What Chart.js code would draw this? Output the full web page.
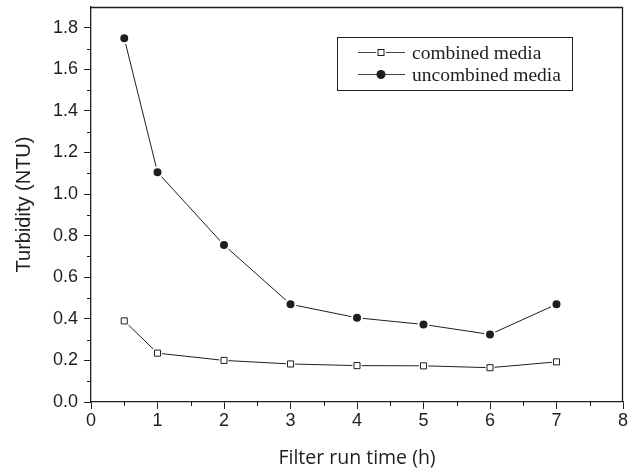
<!DOCTYPE html>
<html>
<head>
<meta charset="utf-8">
<script src="https://cdn.jsdelivr.net/npm/chart.js@4.4.1/dist/chart.umd.min.js"></script>
<style>
  html, body { margin: 0; padding: 0; background: #fff; }
  #wrap { width: 633px; height: 473px; position: relative; }
</style>
</head>
<body>
<div id="wrap"><canvas id="c" width="633" height="473"></canvas></div>
<script>
// ---- data ----
const filterRunTime = [0.5, 1, 2, 3, 4, 5, 6, 7];
const combinedMedia = [0.39, 0.235, 0.20, 0.183, 0.175, 0.174, 0.165, 0.193];
const uncombinedMedia = [1.75, 1.105, 0.755, 0.47, 0.405, 0.373, 0.325, 0.47];
const xTickValues = [0, 1, 2, 3, 4, 5, 6, 7, 8];
const yTickValues = [0, 0.2, 0.4, 0.6, 0.8, 1.0, 1.2, 1.4, 1.6, 1.8];
const xMinorTicks = [0.5, 1.5, 2.5, 3.5, 4.5, 5.5, 6.5, 7.5];
const yMinorTicks = [0.1, 0.3, 0.5, 0.7, 0.9, 1.1, 1.3, 1.5, 1.7];
const legendLabels = ['combined media', 'uncombined media'];

const toPoints = (xs, ys) => xs.map((x, i) => ({ x: x, y: ys[i] }));
const INK = '#1e1e1e';

// frame, minor ticks and legend
const decor = {
  id: 'decor',
  afterDraw(chart) {
    const ctx = chart.ctx;
    const a = chart.chartArea;
    const xs = chart.scales.x, ys = chart.scales.y;
    ctx.save();
    ctx.strokeStyle = INK;
    ctx.lineWidth = 1.3;
    // top and right frame
    ctx.beginPath();
    ctx.moveTo(a.left, a.top + 0.5);
    ctx.lineTo(a.right - 0.5, a.top + 0.5);
    ctx.lineTo(a.right - 0.5, a.bottom);
    ctx.stroke();
    // minor ticks
    ctx.lineWidth = 1;
    ctx.beginPath();
    xMinorTicks.forEach(v => {
      const px = Math.round(xs.getPixelForValue(v)) + 0.5;
      ctx.moveTo(px, a.bottom);
      ctx.lineTo(px, a.bottom + 4);
    });
    yMinorTicks.forEach(v => {
      const py = Math.round(ys.getPixelForValue(v)) + 0.5;
      ctx.moveTo(a.left, py);
      ctx.lineTo(a.left - 4, py);
    });
    ctx.stroke();
    // legend
    const bx = 337.5, by = 37.5, bw = 235, bh = 53;
    ctx.lineWidth = 1;
    ctx.strokeStyle = INK;
    ctx.strokeRect(bx, by, bw, bh);
    const rows = [52.5, 74.5];
    ctx.font = '19.5px "Liberation Serif", "Times New Roman", serif';
    ctx.textBaseline = 'middle';
    ctx.textAlign = 'left';
    rows.forEach((ry, i) => {
      ctx.strokeStyle = '#444';
      ctx.lineWidth = 1;
      ctx.beginPath();
      ctx.moveTo(358, ry);
      ctx.lineTo(405, ry);
      ctx.stroke();
      const mx = 381;
      if (i === 0) {
        ctx.fillStyle = '#fff';
        ctx.fillRect(mx - 5, ry - 5, 10, 10);
        ctx.strokeStyle = INK;
        ctx.strokeRect(mx - 3, ry - 3, 6, 6);
      } else {
        ctx.fillStyle = INK;
        ctx.beginPath();
        ctx.arc(mx, ry, 4.5, 0, Math.PI * 2);
        ctx.fill();
      }
      ctx.fillStyle = INK;
      ctx.fillText(legendLabels[i], 412, ry + 1);
    });
    ctx.restore();
  }
};

new Chart(document.getElementById('c'), {
  type: 'scatter',
  data: {
    datasets: [
      {
        label: legendLabels[1],
        data: toPoints(filterRunTime, uncombinedMedia),
        showLine: true,
        borderColor: INK,
        borderWidth: 1,
        pointStyle: 'circle',
        pointRadius: 5,
        pointBackgroundColor: INK,
        pointBorderColor: '#fff',
        pointBorderWidth: 2,
        order: 1
      },
      {
        label: legendLabels[0] + ' line',
        data: toPoints(filterRunTime, combinedMedia),
        showLine: true,
        borderColor: INK,
        borderWidth: 1,
        pointRadius: 0,
        order: 4
      },
      {
        label: legendLabels[0] + ' halo',
        data: toPoints(filterRunTime, combinedMedia),
        showLine: false,
        pointStyle: 'rect',
        pointRadius: 6.5,
        pointBackgroundColor: '#fff',
        pointBorderColor: '#fff',
        pointBorderWidth: 0,
        order: 3
      },
      {
        label: legendLabels[0],
        data: toPoints(filterRunTime, combinedMedia),
        showLine: false,
        pointStyle: 'rect',
        pointRadius: 4.3,
        pointBackgroundColor: '#fff',
        pointBorderColor: INK,
        pointBorderWidth: 1,
        order: 2
      }
    ]
  },
  options: {
    responsive: false,
    animation: false,
    layout: { padding: { top: 6, right: 10, left: 0, bottom: 0 } },
    plugins: { legend: { display: false }, tooltip: { enabled: false } },
    scales: {
      x: {
        type: 'linear',
        min: 0, max: 8,
        afterBuildTicks: s => { s.ticks = xTickValues.map(v => ({ value: v })); },
        afterFit: s => { s.height = 71; s.paddingLeft = 0; },
        grid: { drawOnChartArea: false, drawTicks: true, tickLength: 7, tickColor: INK, tickWidth: 1 },
        border: { display: true, color: INK, width: 1.3 },
        ticks: {
          color: INK, padding: 1,
          font: { family: '"Liberation Sans", Arial, sans-serif', size: 18 },
          callback: v => String(v)
        },
        title: {
          display: true, text: 'Filter run time (h)', color: INK,
          font: { family: '"Open Sans", "Liberation Sans", sans-serif', size: 19.5 },
          padding: { top: 2, bottom: 3 }
        }
      },
      y: {
        type: 'linear',
        min: 0, max: 1.9,
        afterBuildTicks: s => { s.ticks = yTickValues.map(v => ({ value: v })); },
        afterFit: s => { s.width = 91; s.paddingTop = 0; s.paddingBottom = 0; },
        grid: { drawOnChartArea: false, drawTicks: true, tickLength: 7, tickColor: INK, tickWidth: 1 },
        border: { display: true, color: INK, width: 1.3 },
        ticks: {
          color: INK, padding: 6,
          font: { family: '"Liberation Sans", Arial, sans-serif', size: 18 },
          callback: v => Number(v).toFixed(1)
        },
        title: {
          display: true, text: 'Turbidity (NTU)', color: INK,
          font: { family: '"Liberation Sans", Arial, sans-serif', size: 20 },
          padding: { top: 12, bottom: 0 }
        }
      }
    }
  },
  plugins: [decor]
});
</script>
</body>
</html>
